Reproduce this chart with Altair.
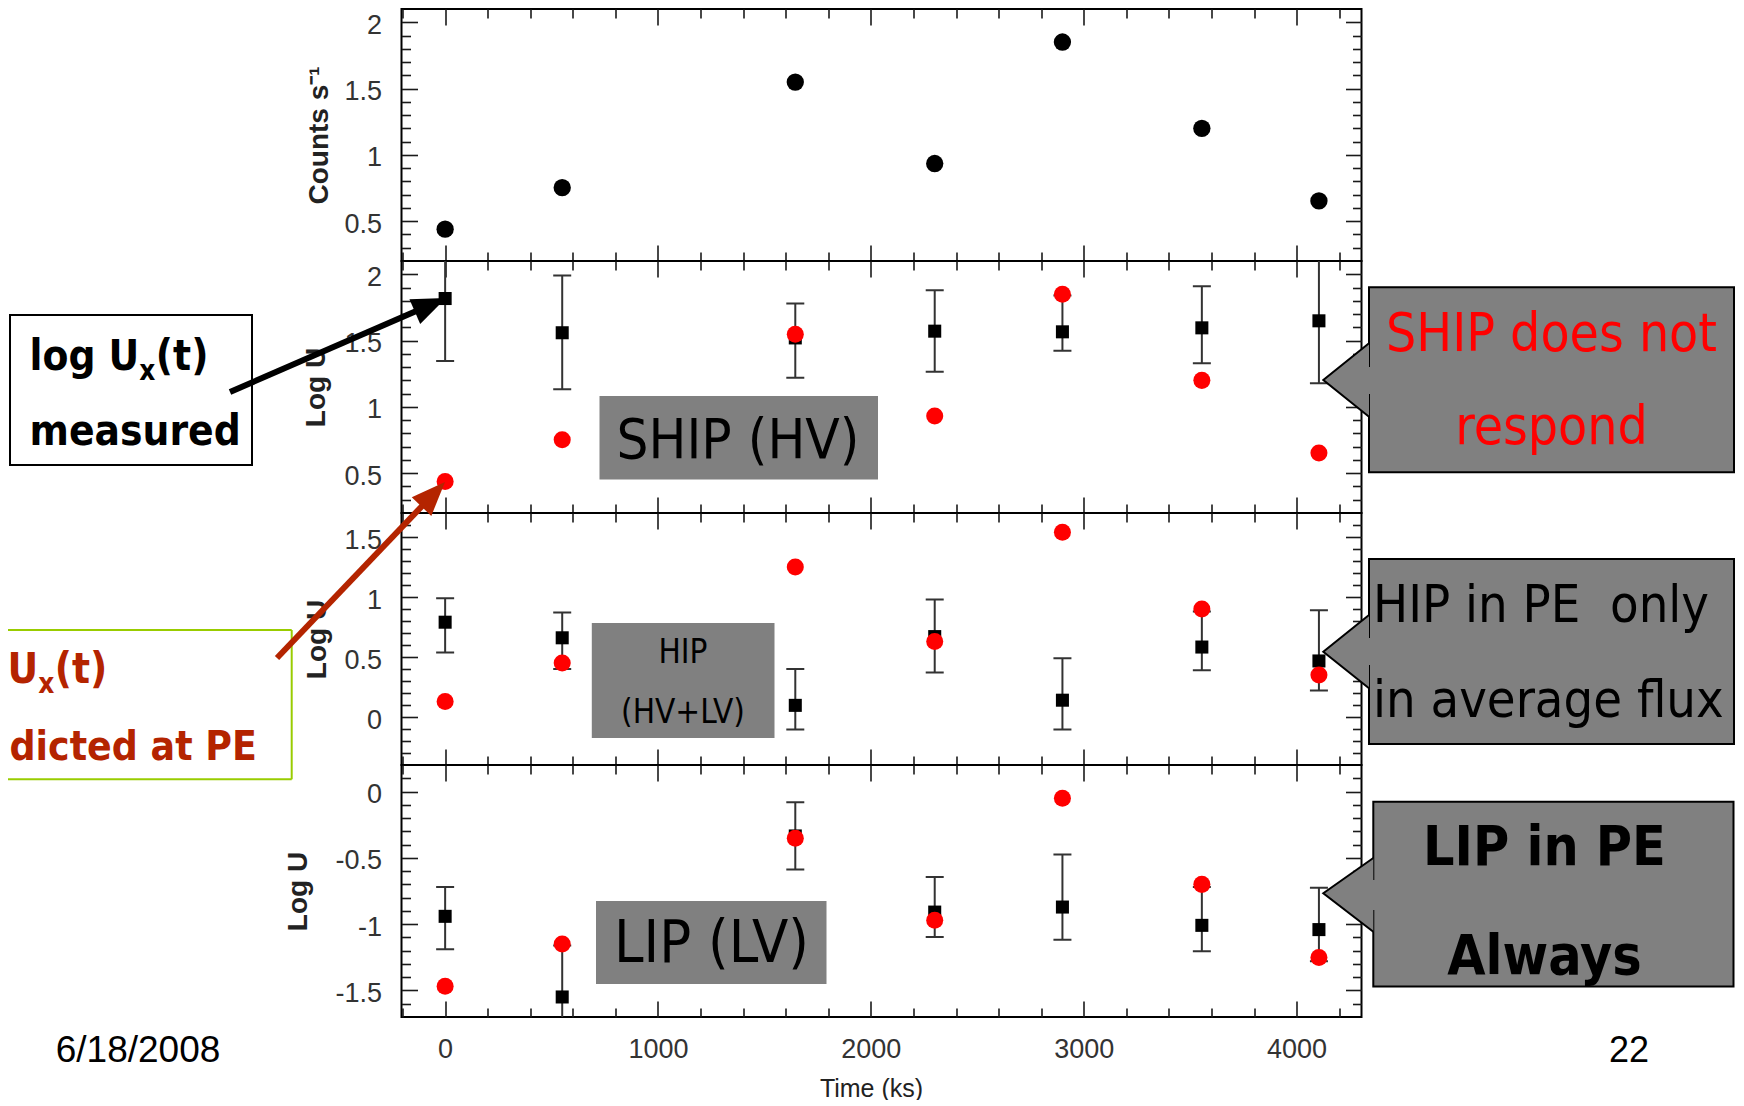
import math
import altair as alt
import pandas as pd

# ---------------- data ----------------
time_ks = [0, 550, 1645, 2300, 2900, 3555, 4105]

counts = [0.44, 0.753, 1.549, 0.935, 1.851, 1.20, 0.653]

ship_meas = [1.817, 1.559, 1.52, 1.571, 1.566, 1.596, 1.649]
ship_lo = [1.346, 1.133, 1.22, 1.265, 1.423, 1.33, 1.179]
ship_hi = [2.29, 1.99, 1.78, 1.88, 1.84, 1.91, 2.12]
ship_pred = [0.438, 0.752, 1.547, 0.932, 1.85, 1.20, 0.652]

hip_meas = [0.79, 0.66, 0.097, 0.67, 0.14, 0.583, 0.467]
hip_lo = [0.537, 0.40, -0.105, 0.37, -0.105, 0.39, 0.22]
hip_hi = [0.99, 0.87, 0.40, 0.98, 0.49, 0.88, 0.89]
hip_pred = [0.13, 0.45, 1.25, 0.63, 1.54, 0.90, 0.35]

lip_meas = [-0.941, -1.549, -0.335, -0.909, -0.871, -1.009, -1.041]
lip_lo = [-1.19, -1.95, -0.587, -1.097, -1.117, -1.205, -1.28]
lip_hi = [-0.72, -1.16, -0.08, -0.645, -0.474, -0.72, -0.725]
lip_pred = [-1.468, -1.15, -0.352, -0.971, -0.05, -0.70, -1.252]

x_major = [0, 1000, 2000, 3000, 4000]
x_minor = [v for v in range(-200, 4201, 200) if v % 1000 != 0]

# ---------------- layout / style ----------------
W, H = 960, 252
XDOM = [-205, 4305]
SANS = "Liberation Sans, Arial, Helvetica, sans-serif"
TAH = "DejaVu Sans Condensed, DejaVu Sans, sans-serif"
GRAY = "#808080"
BROWN = "#B42400"
EBC = "#333333"
TICKC = "#1a1a1a"
ONE = pd.DataFrame({"k": [0]})
LBL = "datum.value < 0 ? '-' + format(-datum.value, '~g') : format(datum.value, '~g')"


def V(v):
    return alt.value(v)


def minor_ticks(lo, hi):
    out = []
    k = math.ceil(lo * 10 + 1e-9)
    while k / 10 < hi - 1e-9:
        if k % 5 != 0 and k / 10 > lo + 1e-9:
            out.append(round(k / 10, 1))
        k += 1
    return out


def major_ticks(lo, hi):
    out = []
    k = math.ceil(lo * 2 - 1e-9)
    while k / 2 <= hi + 1e-9:
        out.append(k / 2)
        k += 1
    return out


def txt(s, x, y, size, color="black", weight="normal", align="left", font=TAH):
    return alt.Chart(ONE).mark_text(
        text=s, font=font, fontSize=size, fontWeight=weight, color=color,
        align=align, baseline="alphabetic"
    ).encode(x=V(x), y=V(y))


def sub_text(parts, x0, y0, size, color):
    # parts: list of (text, advance_em, is_sub)
    out = []
    x = x0
    for s, adv, is_sub in parts:
        fs = size * 0.66 if is_sub else size
        out.append(txt(s, x, y0 + (10 if is_sub else 0), fs, color=color, weight="bold"))
        x += adv * 0.9 * fs
    return out


def rect(x1, x2, y1, y2, fill, stroke=None, sw=0):
    kw = dict(fill=fill, opacity=1)
    if stroke:
        kw.update(stroke=stroke, strokeWidth=sw)
    return alt.Chart(ONE).mark_rect(**kw).encode(
        x=V(x1), x2=V(x2), y=V(y1), y2=V(y2))


def seg(x1, y1, x2, y2, color, w):
    return alt.Chart(ONE).mark_rule(color=color, strokeWidth=w, strokeCap="butt").encode(
        x=V(x1), y=V(y1), x2=V(x2), y2=V(y2))


def shape(path, x, y, fill, stroke=None, sw=0):
    kw = dict(shape=path, size=4, filled=True, fill=fill, opacity=1)
    if stroke:
        kw.update(stroke=stroke, strokeWidth=sw)
    else:
        kw.update(strokeWidth=0)
    return alt.Chart(ONE).mark_point(**kw).encode(x=V(x), y=V(y))


def arrow(x1, y1, x2, y2, color, w=6, L=34, Wd=27):
    dx, dy = x2 - x1, y2 - y1
    d = math.hypot(dx, dy)
    ux, uy = dx / d, dy / d
    nx, ny = -uy, ux
    bx, by = -L * ux, -L * uy
    c1 = (bx + Wd / 2 * nx, by + Wd / 2 * ny)
    c2 = (bx - Wd / 2 * nx, by - Wd / 2 * ny)
    path = f"M0,0 L{c1[0]:.2f},{c1[1]:.2f} L{c2[0]:.2f},{c2[1]:.2f} Z"
    return [seg(x1, y1, x2 - (L - 6) * ux, y2 - (L - 6) * uy, color, w),
            shape(path, x2, y2, color)]


def callout(x1, x2, y1, y2, tipx, tipy, b1, b2, g1, g2):
    wedge = f"M0,{b1} L{tipx - x1},{tipy} L0,{b2}"
    return [rect(x1, x2, y1, y2, GRAY, "black", 2),
            shape(wedge, x1, 0, GRAY, "black", 2),
            seg(x1, g1, x1, g2, GRAY, 3.5)]


def ax(orient, values, size, labels=False, title=None, **kw):
    return alt.Axis(orient=orient, values=values, tickSize=size, offset=-size,
                    domain=False, grid=False, ticks=True, tickColor=TICKC,
                    tickWidth=1.6, labels=labels, title=title, **kw)


def panel(df, yf, ydom, ytitle, tx, kind, extras, xlabels=False):
    xs = alt.Scale(domain=XDOM, nice=False, zero=False)
    ys = alt.Scale(domain=ydom, nice=False, zero=False)
    ymaj = major_ticks(ydom[0], ydom[1])
    ymin = minor_ticks(ydom[0], ydom[1])

    left_major = ax("left", ymaj, 16, labels=True, labelExpr=LBL, labelFont=SANS,
                    labelFontSize=27, labelColor="#333", labelPadding=20,
                    labelOffset=3, labelFlush=False, labelOverlap=False,
                    title=ytitle, titleFont=SANS, titleFontSize=28,
                    titleFontWeight="bold", titleColor="#222",
                    titleX=tx - 16, titleBaseline="middle")
    if xlabels:
        bottom_major = ax("bottom", x_major, 16, labels=True, format="d",
                          labelFont=SANS, labelFontSize=27, labelColor="#333",
                          labelPadding=19, labelFlush=False, labelOverlap=False,
                          title="Time (ks)", titleFont=SANS, titleFontSize=25,
                          titleFontWeight="normal", titleColor="#222",
                          titleX=469.5, titleY=95, titleBaseline="alphabetic")
    else:
        bottom_major = ax("bottom", x_major, 16)

    def carrier(xa, ya):
        return alt.Chart(df).mark_point(opacity=0, size=1).encode(
            x=alt.X("t:Q", scale=xs, axis=xa),
            y=alt.Y(f"{yf}:Q", scale=ys, axis=ya))

    layers = [
        carrier(ax("top", x_major, 16), left_major),
        carrier(ax("top", x_minor, 9), ax("left", ymin, 9)),
        carrier(bottom_major, ax("right", ymaj, 16)),
        carrier(ax("bottom", x_minor, 9), ax("right", ymin, 9)),
    ]
    X = alt.X("t:Q", scale=xs, axis=None)
    if kind == "counts":
        layers.append(alt.Chart(df).mark_circle(size=300, color="black", opacity=1).encode(
            x=X, y=alt.Y("v:Q", scale=ys, axis=None)))
    else:
        layers += [
            alt.Chart(df).mark_rule(color=EBC, strokeWidth=2, clip=True).encode(
                x=X, y=alt.Y("lo:Q", scale=ys, axis=None), y2="hi:Q"),
            alt.Chart(df).mark_tick(orient="horizontal", size=18, thickness=2,
                                    color=EBC, opacity=1, clip=True).encode(
                x=X, y=alt.Y("lo:Q", scale=ys, axis=None)),
            alt.Chart(df).mark_tick(orient="horizontal", size=18, thickness=2,
                                    color=EBC, opacity=1, clip=True).encode(
                x=X, y=alt.Y("hi:Q", scale=ys, axis=None)),
            alt.Chart(df).mark_square(size=170, color="black", opacity=1).encode(
                x=X, y=alt.Y("meas:Q", scale=ys, axis=None)),
            alt.Chart(df).mark_circle(size=290, color="#ff0000", opacity=1).encode(
                x=X, y=alt.Y("pred:Q", scale=ys, axis=None)),
        ]
    layers += extras
    return alt.layer(*layers).resolve_axis(x="independent", y="independent").properties(
        width=W, height=H)


df1 = pd.DataFrame({"t": time_ks, "v": counts})
df2 = pd.DataFrame({"t": time_ks, "meas": ship_meas, "lo": ship_lo, "hi": ship_hi, "pred": ship_pred})
df3 = pd.DataFrame({"t": time_ks, "meas": hip_meas, "lo": hip_lo, "hi": hip_hi, "pred": hip_pred})
df4 = pd.DataFrame({"t": time_ks, "meas": lip_meas, "lo": lip_lo, "hi": lip_hi, "pred": lip_pred})

# ---------------- annotations (panel-local pixels) ----------------
ext2 = [
    rect(198, 476.5, 135, 218.4, GRAY),
    txt("SHIP (HV)", 336.5, 197, 56, align="center"),
    rect(-391.5, -149.5, 54, 204, "white", "black", 2),
] + sub_text([("log U", 2.905, False), ("x", 0.663, True), ("(t)", 1.392, False)],
             -372, 109, 42, "black") + [
    txt("measured", -372, 184, 42, weight="bold"),
] + arrow(-171.5, 131, 44.5, 37, "black") + callout(
    967.5, 1332.5, 26.3, 211.3, 921.8, 119, 82.3, 155.7, 106, 133) + [
    txt("SHIP does not", 1150, 90, 53, color="#ff0000", align="center"),
    txt("respond", 1150, 183, 53, color="#ff0000", align="center"),
]

ext3 = [
    rect(190.3, 373, 110, 225, GRAY),
    txt("HIP", 281.5, 150, 33, align="center"),
    txt("(HV+LV)", 281.5, 209.5, 33, align="center"),
    seg(-430, 117, -109.8, 117, "#99CC00", 2),
    seg(-109.8, 117, -109.8, 266.3, "#99CC00", 2),
    seg(-430, 266.3, -109.8, 266.3, "#99CC00", 2),
] + sub_text([("U", 0.812, False), ("x", 0.663, True), ("(t)", 1.392, False)],
             -394, 170, 42, BROWN) + [
    txt("dicted at PE", -392, 247, 40.5, color=BROWN, weight="bold"),
] + arrow(-124.5, 145, 43.5, -31, BROWN) + callout(
    967.5, 1332.5, 46, 231, 921.8, 138.7, 102, 175.3, 125, 152) + [
    txt("HIP in PE\u00a0 only", 971.5, 108.7, 52),
    txt("in average flux", 971.5, 203.7, 52),
]

ext4 = [
    rect(194.5, 425, 136, 219, GRAY),
    txt("LIP (LV)", 310, 197, 59, align="center"),
] + callout(971.8, 1332, 36.7, 221.5, 921.8, 128.3, 93, 166.7, 115, 145) + [
    txt("LIP in PE", 1143, 100, 55, weight="bold", align="center"),
    txt("Always", 1143, 209, 55, weight="bold", align="center"),
    txt("6/18/2008", -263.5, 297, 37, font=SANS, align="center"),
    txt("22", 1227.5, 297, 36, font=SANS, align="center"),
]

p1 = panel(df1, "v", [0.2, 2.1], "Counts s⁻¹", -82.5, "counts", [])
p2 = panel(df2, "meas", [0.2, 2.1], "Log U", -85, "err", ext2)
p3 = panel(df3, "meas", [-0.4, 1.7], "Log U", -84, "err", ext3)
p4 = panel(df4, "meas", [-1.7, 0.2], "Log U", -103, "err", ext4, xlabels=True)

chart = alt.vconcat(p1, p2, p3, p4, spacing=0, bounds="flush").properties(
    autosize=alt.AutoSizeParams(type="none"),
    padding={"left": 393.5, "top": 1, "right": 374.5, "bottom": 1091},
    background="white",
).configure_view(stroke="black", strokeWidth=2)

chart.save("out.html", embed_options={"renderer": "svg", "actions": False})
